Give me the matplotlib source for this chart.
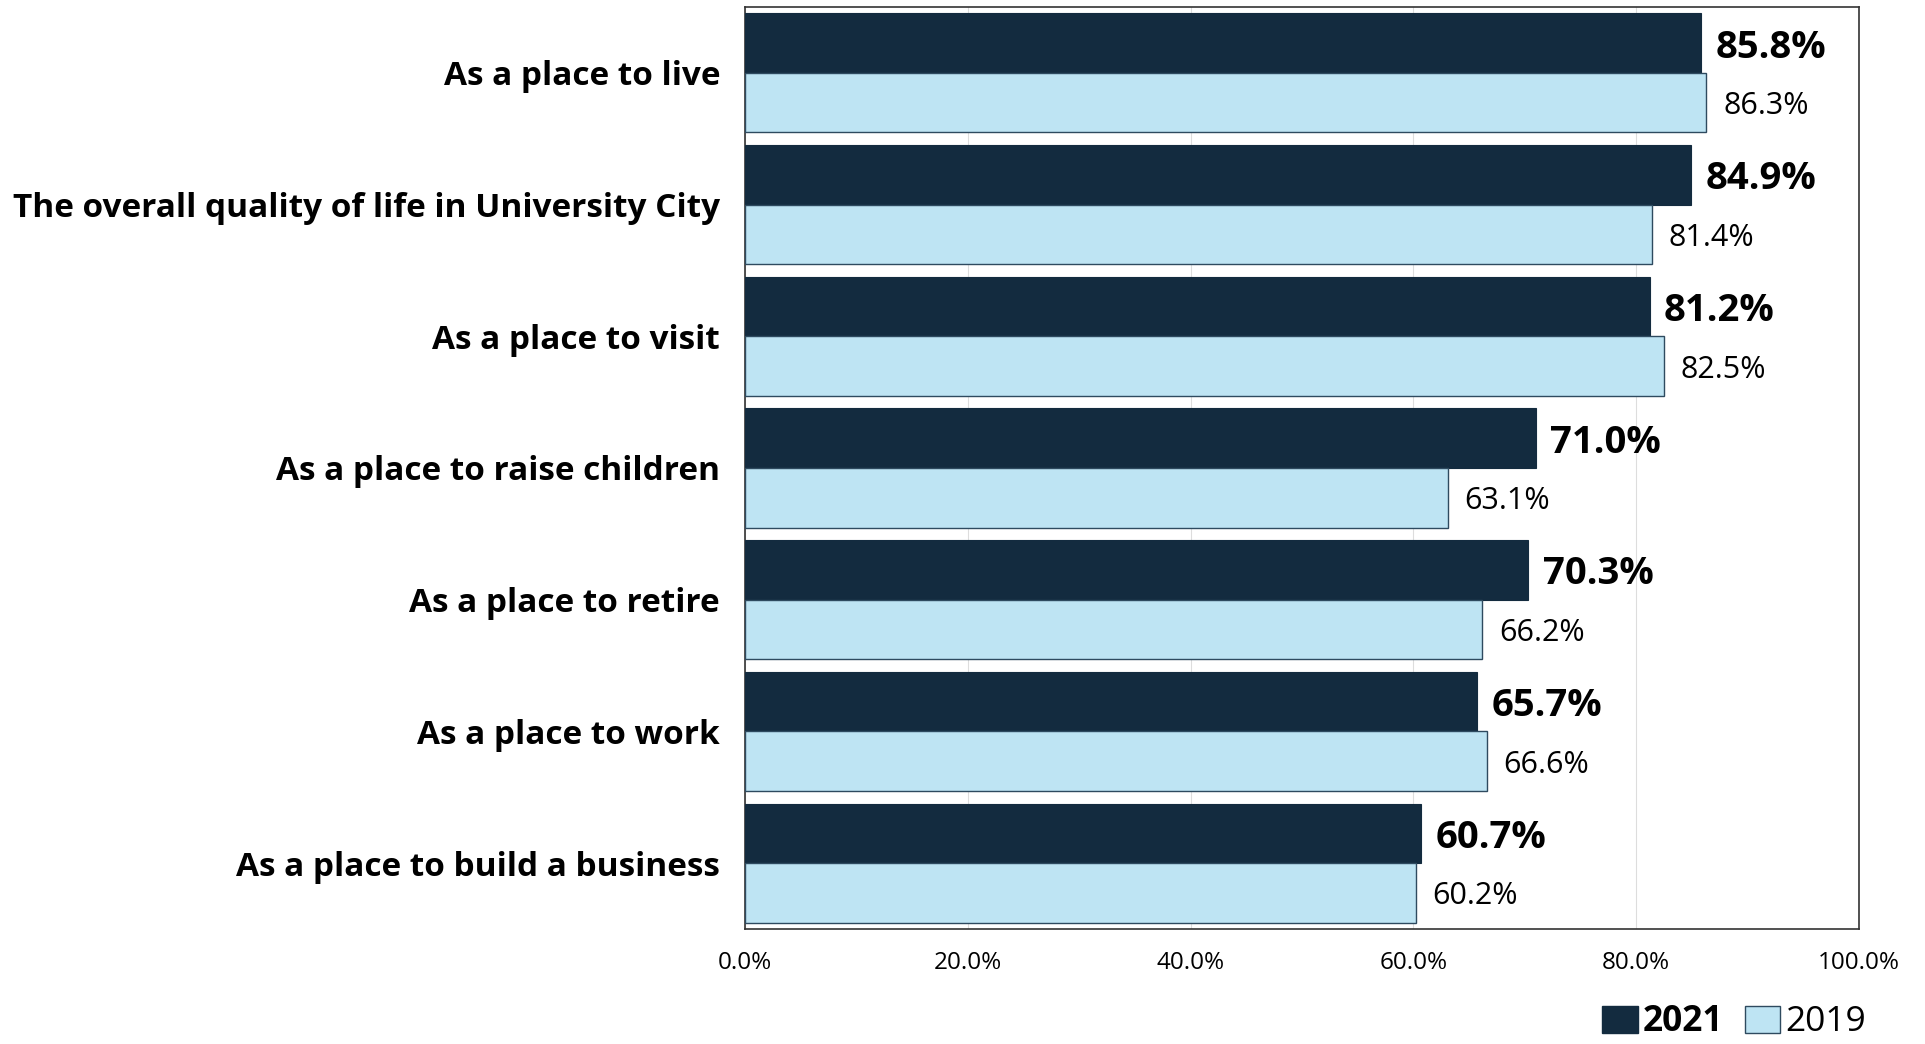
import matplotlib
matplotlib.use("Agg")
import matplotlib.pyplot as plt
from matplotlib.patches import Patch

plt.rcParams['font.family'] = ['Open Sans', 'DejaVu Sans']

categories = [
    "As a place to live",
    "The overall quality of life in University City",
    "As a place to visit",
    "As a place to raise children",
    "As a place to retire",
    "As a place to work",
    "As a place to build a business",
]
vals_2021 = [85.8, 84.9, 81.2, 71.0, 70.3, 65.7, 60.7]
vals_2019 = [86.3, 81.4, 82.5, 63.1, 66.2, 66.6, 60.2]
xticks = [0, 20, 40, 60, 80, 100]

c2021 = "#132b3f"
c2019 = "#bee4f3"
edge19 = "#2e4a5f"

fig = plt.figure(figsize=(19.25, 10.44), dpi=100)
ax = fig.add_axes([745/1925, 1 - 929/1044, (1859-745)/1925, (929-7)/1044])

n = len(categories)
pos = list(range(n))
h = 0.452
y21 = [p - h/2 for p in pos]
y19 = [p + h/2 for p in pos]
ax.barh(y21, vals_2021, height=h, color=c2021, edgecolor=c2021, linewidth=0.8, zorder=3)
ax.barh(y19, vals_2019, height=h, color=c2019, edgecolor=edge19, linewidth=1.0, zorder=3)

for y, v in zip(y21, vals_2021):
    ax.text(v + 1.3, y, f"{v:.1f}%", va='center_baseline', ha='left', fontsize=27.5,
            fontweight='bold', color='black')
for y, v in zip(y19, vals_2019):
    ax.text(v + 1.5, y, f"{v:.1f}%", va='center_baseline', ha='left', fontsize=22, color='black')

ax.set_ylim(n - 0.5, -0.5)
ax.set_xlim(0, 100)
ax.set_yticks(pos)
ax.set_yticklabels(categories, fontsize=24, fontweight='bold')
ax.set_xticks(xticks)
ax.set_xticklabels([f"{t:.1f}%" for t in xticks], fontsize=17.5)
ax.tick_params(axis='both', length=0)
ax.tick_params(axis='y', pad=18)
ax.tick_params(axis='x', pad=16)
ax.grid(axis='x', color='#dddddd', linewidth=0.8, zorder=0)
ax.set_axisbelow(True)
for s in ax.spines.values():
    s.set_color('#333333')
    s.set_linewidth(1.2)

handles = [Patch(facecolor=c2021, edgecolor=c2021, label='2021'),
           Patch(facecolor=c2019, edgecolor=edge19, label='2019')]
leg = fig.legend(handles=handles, loc='lower right', bbox_to_anchor=(1870/1925, 0.0),
                 ncol=2, frameon=False, fontsize=25.5, handlelength=1.0, handleheight=0.8,
                 handletextpad=0.15, columnspacing=0.6, borderaxespad=0.0, borderpad=0.1)
leg.get_texts()[0].set_fontweight('bold')

fig.savefig("out.png", dpi=100)
